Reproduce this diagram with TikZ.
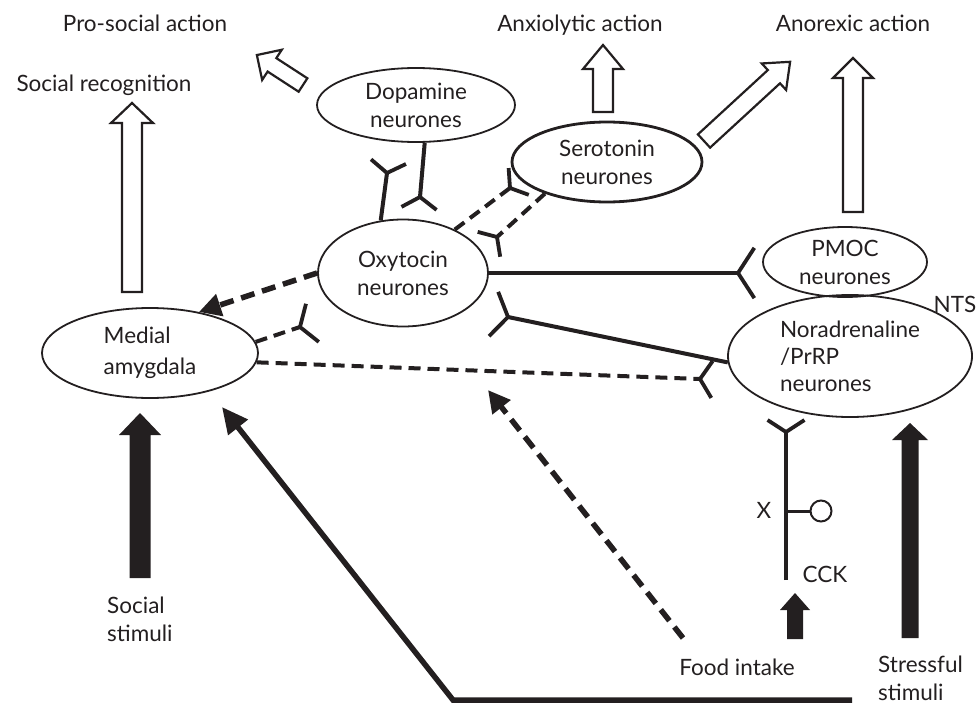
\documentclass[tikz,border=0pt]{standalone}
\usepackage{fontspec}
\setmainfont{Lato}
\usetikzlibrary{shapes.geometric,arrows.meta,calc}
\definecolor{ink}{HTML}{231F20}
\newcommand\dfont{\fontsize{22.5}{28}\selectfont}
\newcommand\fork[3]{\draw[forkst] ($(#1)!#3!123:(#2)$) -- (#1) -- ($(#1)!#3!-123:(#2)$);}
\newcommand\barrow[8]{\begin{scope}[shift={(#2,#3)},rotate=#4]\draw[#1] (0,-#6) -- (#5-#8,-#6) -- (#5-#8,-#7) -- (#5,0) -- (#5-#8,#7) -- (#5-#8,#6) -- (0,#6) -- cycle;\end{scope}}
\tikzset{
 neuron/.style={ellipse, draw=ink, line width=1.8pt, inner sep=0pt, align=center, font=\dfont, text=ink},
 lbl/.style={text=ink, font=\dfont, inner sep=0pt},
 conn/.style={draw=ink, line width=4pt},
 dconn/.style={conn, dash pattern=on 12pt off 7pt},
 forkst/.style={draw=ink, line width=3.8pt, solid, line join=miter},
 darrow/.style={draw=ink, line width=5.5pt, dash pattern=on 14pt off 8pt, -{Triangle[length=22pt,width=22pt]}},
 longarr/.style={draw=ink, line width=5.5pt, line join=miter, -{Triangle[length=26pt,width=24pt]}},
 hollow/.style={draw=ink, line width=2.2pt, fill=white, line join=miter},
 solidarr/.style={fill=ink, draw=none},
}
\begin{document}
\begin{tikzpicture}[x=1pt,y={(0pt,-1pt)}]
\useasboundingbox (0,0) rectangle (976,706);
% neurone populations
\node[neuron, minimum width=198pt, minimum height=74pt] (dop) at (416,105) {Dopamine\\neurones};
\node[neuron, line width=2.8pt, minimum width=190pt, minimum height=80pt] (ser) at (607,162) {Serotonin\\neurones};
\node[neuron, minimum width=170pt, minimum height=107pt] (oxy) at (403,273) {Oxytocin\\neurones};
\node[neuron, align=left, font=\fontsize{22.5}{31}\selectfont, minimum width=216pt, minimum height=90pt] (amy) at (150,353) {Medial\\amygdala};
\node[neuron, minimum width=164pt, minimum height=70pt] (pmoc) at (845,262) {PMOC\\neurones};
\node[neuron, align=left, font=\fontsize{22.5}{27}\selectfont, minimum width=244pt, minimum height=122pt] (nor) at (850,356) {Noradrenaline\\/PrRP\\neurones};
% labels
\node[lbl, anchor=base] (tprosoc) at (145,32) {Pro-social action};
\node[lbl, anchor=base] (tanx) at (580,32) {Anxiolytic action};
\node[lbl, anchor=base] (tanor) at (853,32) {Anorexic action};
\node[lbl, anchor=base] (tsocrec) at (104,92) {Social recognition};
\node[lbl, anchor=base] (tnts) at (955,312) {NTS};
\node[lbl, anchor=base] (tx) at (764,518) {X};
\node[lbl, anchor=base] (tcck) at (825,582) {CCK};
\node[lbl, anchor=base] (tfood) at (737,675) {Food intake};
\node[lbl, anchor=north west, align=left] (tsocstim) at (107,597) {Social\\stimuli};
\node[lbl, anchor=north west, align=left] (tstress) at (878,656) {Stressful\\stimuli};
% hollow output arrows
\barrow{hollow}{132}{292}{90}{189}{10}{21}{20}
\barrow{hollow}{303}{85}{147}{55}{8}{18}{18}
\barrow{hollow}{603}{112}{90}{67}{10}{20}{24}
\barrow{hollow}{704}{141}{42.6}{117}{9}{18}{22}
\barrow{hollow}{853}{212}{90}{154}{10}{20}{20}
% filled input arrows
\barrow{solidarr}{140}{578}{90}{165}{10.5}{21}{22}
\barrow{solidarr}{795}{639}{90}{46}{8}{15}{17}
\barrow{solidarr}{910}{638}{90}{215}{8.5}{18}{17}
% synapse vertices and free ends
\coordinate (vDop) at (387,173);
\coordinate (vOxA) at (420,197);
\coordinate (vSer) at (510,188);
\coordinate (vOxB) at (497,237);
\coordinate (vPmoc) at (738,273);
\coordinate (vOxC) at (508,317);
\coordinate (vOxD) at (300,327);
\coordinate (vNor) at (700,379);
\coordinate (vNorB) at (786,432);
\coordinate (cckBot) at (786,580);
\coordinate (xJoin) at (786,511);
\coordinate (foodStart) at (683,638);
\coordinate (foodTip) at (488,390);
\coordinate (stressEnd) at (852,700);
\coordinate (bend) at (453,700);
\coordinate (amyTip) at (222,407);
\node[circle, draw=ink, line width=2pt, minimum size=21pt, inner sep=0pt] (xcirc) at (821,511) {};
% connections
\draw[conn] (oxy.113) -- (vDop); \fork{vDop}{oxy.113}{21pt}
\draw[conn] (dop.-77) -- (vOxA); \fork{vOxA}{dop.-77}{21pt}
\draw[dconn] (oxy.40) -- (vSer); \fork{vSer}{oxy.40}{20pt}
\draw[dconn] (ser.207) -- (vOxB); \fork{vOxB}{ser.207}{20pt}
\draw[conn, line width=4.5pt] (oxy.east) -- (vPmoc); \fork{vPmoc}{oxy.east}{30pt}
\draw[conn] (nor.183) -- (vOxC); \fork{vOxC}{nor.183}{27pt}
\draw[dconn] (amy.6) -- (vOxD); \fork{vOxD}{amy.6}{24pt}
\draw[dconn] (amy.-5) -- (vNor); \fork{vNor}{amy.-5}{22pt}
\draw[conn, line width=3.5pt] (cckBot) -- (vNorB); \fork{vNorB}{cckBot}{22pt}
\draw[conn, line width=3pt] (xJoin) -- (xcirc);
\draw[darrow] (oxy.west) -- (amy.40);
\draw[darrow] (foodStart) -- (foodTip);
\draw[longarr] (stressEnd) -- (bend) -- (amyTip);
\end{tikzpicture}
\end{document}
